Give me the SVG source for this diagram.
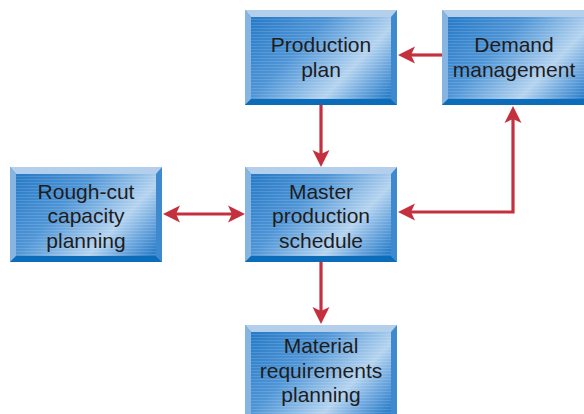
<svg xmlns="http://www.w3.org/2000/svg" xmlns:xlink="http://www.w3.org/1999/xlink" width="584" height="414" viewBox="0 0 584 414">
<style>
.lbl{font-family:"Liberation Sans",Arial,sans-serif;font-size:21px;fill:#1f1c1d;text-anchor:middle}
.ln{stroke:#c4303e;stroke-width:3.2;fill:none}
.hd{fill:#c4303e}
</style>
<defs>
<linearGradient id="face" x1="0" y1="0.2" x2="1" y2="0.8">
<stop offset="0" stop-color="#2a7cc8"/>
<stop offset="0.35" stop-color="#4f95d6"/>
<stop offset="0.7" stop-color="#b4d3ef"/>
<stop offset="0.85" stop-color="#6fa8de"/>
<stop offset="1" stop-color="#2f80ca"/>
</linearGradient>
<pattern id="streak" width="4" height="3" patternUnits="userSpaceOnUse">
<rect width="4" height="1" fill="#ffffff" fill-opacity="0.13"/>
</pattern>
<g id="box">
<rect x="0" y="0" width="152" height="95" fill="url(#face)"/>
<rect x="0" y="0" width="152" height="95" fill="url(#streak)"/>
<polygon points="0,0 152,0 146,7 6,7" fill="#b3cfec"/>
<polygon points="0,0 6,7 6,89 0,95" fill="#86b5e2"/>
<polygon points="0,95 6,89 146,89 152,95" fill="#0b6cb9"/>
<polygon points="152,0 152,95 146,89 146,7" fill="#3f89cf"/>
</g>
</defs>
<g id="connectors">
<line class="ln" x1="442" y1="55" x2="410" y2="55"/>
<polygon class="hd" points="398,55 415,46.5 411,55 415,63.5"/>
<line class="ln" x1="321" y1="105" x2="321" y2="155"/>
<polygon class="hd" points="321,167 312.5,150 321,154 329.5,150"/>
<line class="ln" x1="321" y1="262" x2="321" y2="312"/>
<polygon class="hd" points="321,324 312.5,307 321,311 329.5,307"/>
<line class="ln" x1="175" y1="214" x2="232" y2="214"/>
<polygon class="hd" points="163,214 180,205.5 176,214 180,222.5"/>
<polygon class="hd" points="245,214 228,205.5 232,214 228,222.5"/>
<polyline class="ln" points="410,212 513,212 513,119"/>
<polygon class="hd" points="398,212 415,203.5 411,212 415,220.5"/>
<polygon class="hd" points="513,106 504.5,123 513,119 521.5,123"/>
</g>
<g id="production-plan">
<use xlink:href="#box" transform="translate(245,10)"/>
<text class="lbl" x="321" y="52">Production</text>
<text class="lbl" x="321" y="77">plan</text>
</g>
<g id="demand-management">
<use xlink:href="#box" transform="translate(442,10)"/>
<text class="lbl" x="514" y="52">Demand</text>
<text class="lbl" x="514" y="77">management</text>
</g>
<g id="rough-cut">
<use xlink:href="#box" transform="translate(10,167)"/>
<text class="lbl" x="86" y="199">Rough-cut</text>
<text class="lbl" x="86" y="223">capacity</text>
<text class="lbl" x="86" y="248">planning</text>
</g>
<g id="master-production-schedule">
<use xlink:href="#box" transform="translate(245,167)"/>
<text class="lbl" x="321" y="199">Master</text>
<text class="lbl" x="321" y="223">production</text>
<text class="lbl" x="321" y="248">schedule</text>
</g>
<g id="mrp">
<use xlink:href="#box" transform="translate(245,325)"/>
<text class="lbl" x="321" y="353">Material</text>
<text class="lbl" x="321" y="378">requirements</text>
<text class="lbl" x="321" y="402">planning</text>
</g>
</svg>
